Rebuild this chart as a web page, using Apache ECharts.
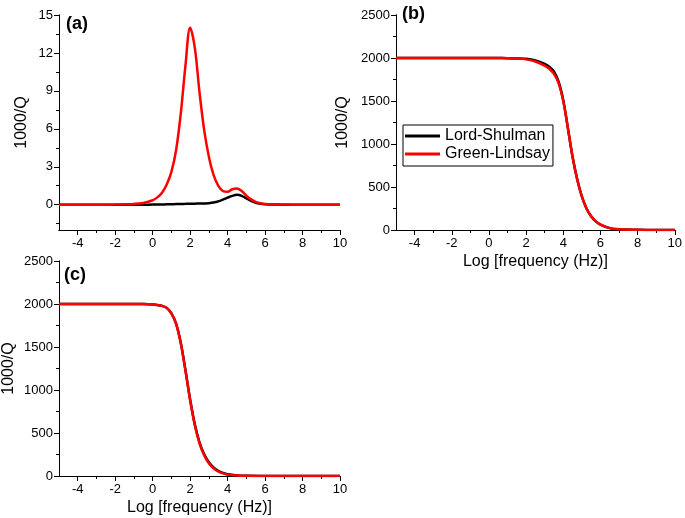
<!DOCTYPE html>
<html><head><meta charset="utf-8">
<script src="https://cdn.jsdelivr.net/npm/echarts@6/dist/echarts.min.js"></script>
<style>html,body{margin:0;padding:0;background:#fff}#c{width:685px;height:518px}</style>
</head><body><div id="c"></div>
<script>
// ---- tick values ----
const xMajor = [-4, -2, 0, 2, 4, 6, 8, 10];
const xMinor = [-3, -1, 1, 3, 5, 7, 9];
const aYMajor = [0, 3, 6, 9, 12, 15];
const aYMinor = [-1.5, 1.5, 4.5, 7.5, 10.5, 13.5];
const qYMajor = [0, 500, 1000, 1500, 2000, 2500];
const qYMinor = [250, 750, 1250, 1750, 2250];

// ---- panel (a) ----
const aX  = [-5, -4, -3, -2, -1.5, -1, -0.5, 0, 0.25, 0.5, 0.75, 1, 1.25, 1.5, 1.75, 2, 2.25, 2.5, 2.75, 3, 3.25, 3.5, 3.75, 4, 4.25, 4.5, 4.75, 5, 5.25, 5.5, 5.75, 6, 6.5, 7, 8, 9, 10];
const aGL = [0, 0, 0, 0.01, 0.03, 0.06, 0.14, 0.35, 0.58, 0.95, 1.6, 2.6, 4.3, 7.2, 11.0, 14.0, 12.4, 8.9, 5.9, 3.8, 2.35, 1.5, 1.07, 1.02, 1.22, 1.28, 1.08, 0.72, 0.42, 0.22, 0.11, 0.05, 0.02, 0.01, 0, 0, 0];
const aLS = [0, 0, 0, 0, 0, 0, 0, 0.01, 0.01, 0.02, 0.03, 0.04, 0.05, 0.06, 0.07, 0.08, 0.085, 0.09, 0.1, 0.12, 0.17, 0.26, 0.4, 0.56, 0.7, 0.78, 0.7, 0.5, 0.3, 0.16, 0.08, 0.04, 0.01, 0, 0, 0, 0];

// ---- panel (b) ----
const bX  = [-5, -4, -3, -2, -1, 0, 0.5, 1, 1.5, 2, 2.5, 3, 3.25, 3.5, 3.75, 4, 4.25, 4.5, 4.75, 5, 5.25, 5.5, 5.75, 6, 6.5, 7, 8, 9, 10];
const bGL = [2000, 2000, 2000, 2000, 2000, 2000, 1999, 1998, 1994, 1984, 1960, 1912, 1875, 1815, 1705, 1500, 1180, 850, 590, 390, 250, 160, 100, 62, 22, 8, 2, 0, 0];
const bLS = [2000, 2000, 2000, 2000, 2000, 2000, 1999, 1998, 1995, 1990, 1972, 1932, 1898, 1840, 1725, 1510, 1185, 852, 590, 390, 250, 160, 100, 62, 22, 8, 2, 0, 0];

// ---- panel (c) ----
const cX  = [-5, -4, -3, -2, -1, -0.5, 0, 0.25, 0.5, 0.75, 1, 1.25, 1.5, 1.75, 2, 2.25, 2.5, 2.75, 3, 3.25, 3.5, 3.75, 4, 4.5, 5, 6, 7, 8, 9, 10];
const cGL = [2000, 2000, 2000, 2000, 2000, 1999, 1994, 1988, 1978, 1955, 1890, 1770, 1545, 1225, 880, 590, 380, 240, 148, 90, 52, 30, 16, 5, 2, 0, 0, 0, 0, 0];
const cLS = [2000, 2000, 2000, 2000, 2000, 1999, 1994, 1988, 1978, 1955, 1890, 1772, 1550, 1232, 890, 602, 392, 252, 160, 100, 60, 36, 20, 7, 3, 1, 0, 0, 0, 0];

const FONT = "'Liberation Sans', Arial, sans-serif";
const zip = (xs, ys) => xs.map((x, i) => [x, ys[i]]);
const plain = v => String(v);

const grids = [
  {left: 59, top: 15, width: 281, height: 215},
  {left: 396, top: 15, width: 281, height: 215},
  {left: 59, top: 261, width: 281, height: 215}
];

function xAx(g, name) {
  const base = {type: 'value', gridIndex: g, min: -5, max: 10, position: 'bottom',
    splitLine: {show: false},
    axisLine: {show: true, onZero: false, lineStyle: {color: '#000', width: 1}}};
  return [
    Object.assign({}, base, {
      axisTick: {show: true, customValues: xMajor, length: 5, lineStyle: {color: '#000'}},
      axisLabel: {show: true, customValues: xMajor, formatter: plain, color: '#000', fontSize: 13, margin: 7, fontFamily: FONT},
      name: name, nameLocation: 'middle', nameGap: 24,
      nameTextStyle: {color: '#000', fontSize: 16, fontFamily: FONT}
    }),
    Object.assign({}, base, {
      axisTick: {show: true, customValues: xMinor, length: 3, lineStyle: {color: '#000'}},
      axisLabel: {show: false}
    })
  ];
}
function yAx(g, min, max, major, minor, gap) {
  const base = {type: 'value', gridIndex: g, min: min, max: max, position: 'left',
    splitLine: {show: false},
    axisLine: {show: true, onZero: false, lineStyle: {color: '#000', width: 1}}};
  return [
    Object.assign({}, base, {
      axisTick: {show: true, customValues: major, length: 5, lineStyle: {color: '#000'}},
      axisLabel: {show: true, customValues: major, formatter: plain, color: '#000', fontSize: 13, margin: 6, fontFamily: FONT},
      name: '1000/Q', nameLocation: 'middle', nameGap: gap,
      nameTextStyle: {color: '#000', fontSize: 16, fontFamily: FONT}
    }),
    Object.assign({}, base, {
      axisTick: {show: true, customValues: minor, length: 3, lineStyle: {color: '#000'}},
      axisLabel: {show: false}
    })
  ];
}

function line(name, color, xi, yi, data) {
  return {type: 'line', name: name, xAxisIndex: xi, yAxisIndex: yi, data: data,
    showSymbol: false, symbol: 'none', smooth: 0.35, animation: false,
    lineStyle: {color: color, width: 2.5}, itemStyle: {color: color}, z: color === '#ff0000' ? 3 : 2};
}

const option = {
  animation: false,
  backgroundColor: '#fff',
  grid: grids,
  title: [
    {text: '(a)', left: 66, top: 15, padding: 0, textStyle: {fontSize: 18, fontWeight: 'bold', color: '#000', fontFamily: FONT}},
    {text: '(b)', left: 402, top: 5, padding: 0, textStyle: {fontSize: 18, fontWeight: 'bold', color: '#000', fontFamily: FONT}},
    {text: '(c)', left: 64, top: 266, padding: 0, textStyle: {fontSize: 18, fontWeight: 'bold', color: '#000', fontFamily: FONT}}
  ],
  legend: {
    data: ['Lord-Shulman', 'Green-Lindsay'], orient: 'vertical', left: 403, top: 125,
    icon: 'rect', itemWidth: 35, itemHeight: 3, itemGap: 0, padding: [2, 3, 3, 2],
    borderColor: '#000', borderWidth: 1, selectedMode: false,
    textStyle: {fontSize: 16, color: '#000', lineHeight: 18, fontFamily: FONT}
  },
  xAxis: [].concat(xAx(0, ''), xAx(1, 'Log [frequency (Hz)]'), xAx(2, 'Log [frequency (Hz)]')),
  yAxis: [].concat(
    yAx(0, -2, 15, aYMajor, aYMinor, 29),
    yAx(1, 0, 2500, qYMajor, qYMinor, 45),
    yAx(2, 0, 2500, qYMajor, qYMinor, 42)
  ),
  series: [
    line('Lord-Shulman', '#000000', 0, 0, zip(aX, aLS)),
    line('Green-Lindsay', '#ff0000', 0, 0, zip(aX, aGL)),
    line('Lord-Shulman', '#000000', 2, 2, zip(bX, bLS)),
    line('Green-Lindsay', '#ff0000', 2, 2, zip(bX, bGL)),
    line('Lord-Shulman', '#000000', 4, 4, zip(cX, cLS)),
    line('Green-Lindsay', '#ff0000', 4, 4, zip(cX, cGL))
  ]
};
const chart = echarts.init(document.getElementById('c'), null, {renderer: 'canvas'});
chart.setOption(option);
</script>
</body></html>
